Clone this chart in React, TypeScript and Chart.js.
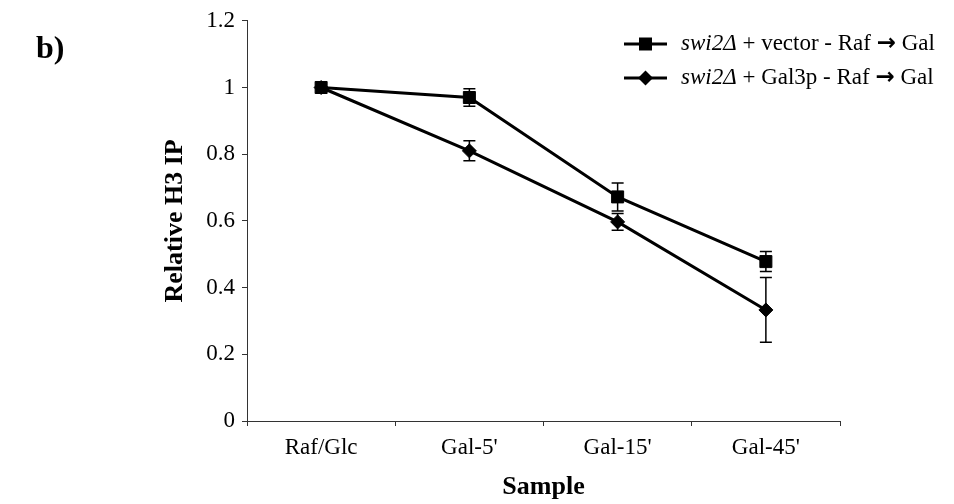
import React, { useEffect, useRef } from 'react';
import { Chart, registerables } from 'chart.js';

Chart.register(...registerables);

const CATEGORIES = ["Raf/Glc", "Gal-5'", "Gal-15'", "Gal-45'"];
const VECTOR_VALUES = [1.0, 0.97, 0.672, 0.478];
const VECTOR_ERRORS = [0, 0.026, 0.042, 0.03];
const GAL3P_VALUES = [1.0, 0.81, 0.597, 0.333];
const GAL3P_ERRORS = [0, 0.03, 0.025, 0.097];
const Y_TICK_LABELS = ['0', '0.2', '0.4', '0.6', '0.8', '1', '1.2'];
const SERIES_ITALIC = ['swi2\u0394', 'swi2\u0394'];
const SERIES_MIDDLE = [' + vector - Raf ', ' + Gal3p - Raf '];
const SERIES_ARROW = ['\u2192', '\u2192'];
const SERIES_END = [' Gal', ' Gal'];
const SERIES_STYLES = ['rect', 'rectRot'];
const PANEL_LABEL = 'b)';
const Y_TITLE = 'Relative H3 IP';
const X_TITLE = 'Sample';

const FONT = '"Liberation Serif", "Times New Roman", serif';
const ARROW_FONT = '"DejaVu Sans", sans-serif';

const errorBarPlugin = {
  id: 'errorBars',
  afterDatasetsDraw(chart: any) {
    const ctx = chart.ctx;
    const yScale = chart.scales.y;
    chart.data.datasets.forEach((ds: any, di: number) => {
      const meta = chart.getDatasetMeta(di);
      const errs: number[] = ds.errors || [];
      meta.data.forEach((pt: any, i: number) => {
        const e = errs[i];
        if (!e) return;
        const v = ds.data[i];
        const yTop = yScale.getPixelForValue(v + e);
        const yBot = yScale.getPixelForValue(v - e);
        const x = pt.x;
        ctx.save();
        ctx.strokeStyle = '#000';
        ctx.lineWidth = 1.5;
        ctx.beginPath();
        ctx.moveTo(x, yTop);
        ctx.lineTo(x, yBot);
        ctx.moveTo(x - 6, yTop);
        ctx.lineTo(x + 6, yTop);
        ctx.moveTo(x - 6, yBot);
        ctx.lineTo(x + 6, yBot);
        ctx.stroke();
        ctx.restore();
      });
    });
  },
};

const legendPlugin = {
  id: 'customLegend',
  afterDraw(chart: any) {
    const ctx = chart.ctx;
    ctx.save();
    ctx.fillStyle = '#000';
    ctx.font = `bold 32px ${FONT}`;
    ctx.textBaseline = 'alphabetic';
    ctx.textAlign = 'left';
    ctx.fillText(PANEL_LABEL, 36, 58);

    const rows = [44, 78];
    rows.forEach((y, i) => {
      ctx.strokeStyle = '#000';
      ctx.lineWidth = 3;
      ctx.beginPath();
      ctx.moveTo(624, y);
      ctx.lineTo(667, y);
      ctx.stroke();
      ctx.fillStyle = '#000';
      ctx.beginPath();
      if (SERIES_STYLES[i] === 'rect') {
        ctx.rect(645.5 - 6.5, y - 6.5, 13, 13);
      } else {
        ctx.moveTo(645.5, y - 7.5);
        ctx.lineTo(653, y);
        ctx.lineTo(645.5, y + 7.5);
        ctx.lineTo(638, y);
        ctx.closePath();
      }
      ctx.fill();
      ctx.textBaseline = 'middle';
      let x = 681;
      ctx.font = `italic 23px ${FONT}`;
      ctx.fillText(SERIES_ITALIC[i], x, y);
      x += ctx.measureText(SERIES_ITALIC[i]).width;
      ctx.font = `23px ${FONT}`;
      ctx.fillText(SERIES_MIDDLE[i], x, y);
      x += ctx.measureText(SERIES_MIDDLE[i]).width;
      ctx.font = `bold 23px ${ARROW_FONT}`;
      ctx.fillText(SERIES_ARROW[i], x, y);
      x += ctx.measureText(SERIES_ARROW[i]).width;
      ctx.font = `23px ${FONT}`;
      ctx.fillText(SERIES_END[i], x, y);
    });
    ctx.restore();
  },
};

export default function App() {
  const ref = useRef<HTMLCanvasElement | null>(null);
  useEffect(() => {
    if (!ref.current) return;
    const chart = new Chart(ref.current, {
      type: 'line',
      data: {
        labels: CATEGORIES,
        datasets: [
          {
            label: SERIES_ITALIC[0] + SERIES_MIDDLE[0] + SERIES_ARROW[0] + SERIES_END[0],
            data: VECTOR_VALUES,
            errors: VECTOR_ERRORS,
            borderColor: '#000',
            backgroundColor: '#000',
            borderWidth: 3,
            pointStyle: 'rect',
            pointRadius: 8.5,
            pointBorderWidth: 1,
            pointBorderColor: '#000',
            pointBackgroundColor: '#000',
            tension: 0,
          } as any,
          {
            label: SERIES_ITALIC[1] + SERIES_MIDDLE[1] + SERIES_ARROW[1] + SERIES_END[1],
            data: GAL3P_VALUES,
            errors: GAL3P_ERRORS,
            borderColor: '#000',
            backgroundColor: '#000',
            borderWidth: 3,
            pointStyle: 'rectRot',
            pointRadius: 7,
            pointBorderWidth: 1,
            pointBorderColor: '#000',
            pointBackgroundColor: '#000',
            tension: 0,
          } as any,
        ],
      },
      options: {
        responsive: false,
        animation: false,
        devicePixelRatio: 1,
        layout: { padding: { top: 16, right: 114, left: 0, bottom: 0 } },
        plugins: { legend: { display: false }, tooltip: { enabled: false } },
        scales: {
          x: {
            offset: true,
            grid: { offset: true, drawOnChartArea: false, drawTicks: true, tickLength: 5, color: '#333' },
            border: { color: '#333', width: 1 },
            ticks: { color: '#000', font: { family: FONT, size: 23 }, padding: 8, maxRotation: 0 },
            title: {
              display: true,
              text: X_TITLE,
              color: '#000',
              font: { family: FONT, size: 26, weight: 'bold' },
              padding: { top: 0, bottom: 1 },
            },
            afterFit: (s: any) => {
              s.height = 83;
            },
          },
          y: {
            min: 0,
            max: 1.2,
            grid: { drawOnChartArea: false, drawTicks: true, tickLength: 5, color: '#333' },
            border: { color: '#333', width: 1 },
            ticks: {
              stepSize: 0.2,
              color: '#000',
              font: { family: FONT, size: 23 },
              padding: 7,
              callback: (_v: any, i: number) => Y_TICK_LABELS[i],
            },
            title: {
              display: true,
              text: Y_TITLE,
              color: '#000',
              font: { family: FONT, size: 26, weight: 'bold' },
              padding: { top: 160, bottom: 0 },
            },
            afterFit: (s: any) => {
              s.width = 247;
            },
          },
        },
      } as any,
      plugins: [errorBarPlugin, legendPlugin],
    });
    return () => chart.destroy();
  }, []);
  return (
    <div style={{ position: 'absolute', left: 0, top: 0, width: 954, height: 504, background: '#fff' }}>
      <canvas ref={ref} width={954} height={504} style={{ display: 'block' }} />
    </div>
  );
}
